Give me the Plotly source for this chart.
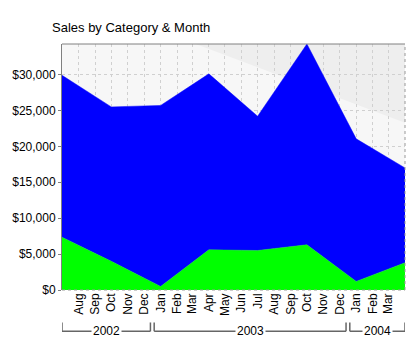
import plotly.graph_objects as go
import pandas as pd

# ---- data ----
dates = ["2002-07-01", "2002-10-01", "2003-01-01", "2003-04-01",
         "2003-07-01", "2003-10-01", "2004-01-01", "2004-04-01"]
green_sales = [7350, 4000, 500, 5600, 5500, 6300, 1200, 3800]
blue_sales = [22550, 21500, 25200, 24500, 18700, 27960, 19850, 13200]
series_names = ["Category 1", "Category 2"]

month_ticks = pd.date_range("2002-08-01", "2004-03-01", freq="MS")
month_labels = [d.strftime("%b") for d in month_ticks]
years = ["2002", "2003", "2004"]
y_ticks = [0, 5000, 10000, 15000, 20000, 25000, 30000]

title = "Sales by Category & Month"

FONT = "Liberation Sans, Arial, sans-serif"
totals = [g + b for g, b in zip(green_sales, blue_sales)]

fig = go.Figure()
fig.add_trace(go.Scatter(x=dates, y=green_sales, name=series_names[0], mode="lines",
                         stackgroup="one", line=dict(width=0.5, color="#00ff00"),
                         fillcolor="#00ff00"))
fig.add_trace(go.Scatter(x=dates, y=blue_sales, name=series_names[1], mode="lines",
                         stackgroup="one", line=dict(width=0.5, color="#0000ff"),
                         fillcolor="#0000ff"))

x0 = pd.Timestamp(dates[0])
x1 = pd.Timestamp(dates[-1])

shapes = []
# background darker band
shapes.append(dict(type="path", xref="paper", yref="paper", layer="below",
                   path="M 0.39 1 L 1 1 L 1 0.68 Z", fillcolor="#eeeeee", line=dict(width=0)))
# borders
shapes.append(dict(type="line", xref="paper", yref="paper", x0=0, x1=1, y0=1, y1=1,
                   line=dict(color="#808080", width=1), layer="above"))
shapes.append(dict(type="line", xref="paper", yref="paper", x0=1, x1=1, y0=0, y1=1,
                   line=dict(color="#999999", width=1, dash="dot"), layer="above"))
shapes.append(dict(type="line", xref="paper", yref="paper", x0=0, x1=1, y0=0, y1=0,
                   line=dict(color="#999999", width=1, dash="dot"), layer="above"))

# year brackets
annotations = []
yb, yt = -0.168, -0.132
for yr in years:
    start = pd.Timestamp(f"{int(yr)-1}-12-16") + pd.Timedelta(days=4)
    end = pd.Timestamp(f"{yr}-12-16") - pd.Timedelta(days=3)
    start = max(start, x0)
    end = min(end, x1)
    shapes.append(dict(type="line", xref="x", yref="paper", x0=start, x1=end, y0=yb, y1=yb,
                       line=dict(color="#666666", width=1.5)))
    for xe in (start, end):
        shapes.append(dict(type="line", xref="x", yref="paper", x0=xe, x1=xe, y0=yb, y1=yt,
                           line=dict(color="#666666", width=1.5)))
    mid = start + (end - start) / 2
    annotations.append(dict(x=mid, y=yb, xref="x", yref="paper", text=yr, showarrow=False,
                            font=dict(family=FONT, size=12, color="#000000"),
                            bgcolor="#ffffff", borderpad=1, yanchor="middle"))

fig.update_layout(
    width=420, height=362,
    margin=dict(l=53, r=15, t=44, b=72),
    paper_bgcolor="#ffffff",
    plot_bgcolor="#f7f7f7",
    showlegend=False,
    title=dict(text=title, x=52/420, xanchor="left", xref="container",
               y=1 - 27/362, yanchor="middle",
               font=dict(family=FONT, size=13, color="#000000")),
    shapes=shapes,
    annotations=annotations,
    xaxis=dict(type="date", range=[x0, x1], tickvals=list(month_ticks), ticktext=month_labels,
               tickangle=-90, tickfont=dict(family=FONT, size=12, color="#000000"),
               showgrid=True, gridcolor="#d0d0d0", griddash="dot", gridwidth=1,
               showline=False, ticks="", zeroline=False),
    yaxis=dict(range=[0, max(totals)], tickvals=y_ticks,
               tickformat="$,.0f",
               tickfont=dict(family=FONT, size=12, color="#000000"),
               showgrid=True, gridcolor="#d0d0d0", griddash="dot", gridwidth=1,
               showline=True, linecolor="#808080", linewidth=1,
               ticks="outside", ticklen=3, tickcolor="#808080", zeroline=False),
)

fig.write_html("out.html", config={"displayModeBar": False},
               post_script="document.body.style.margin='0';")
